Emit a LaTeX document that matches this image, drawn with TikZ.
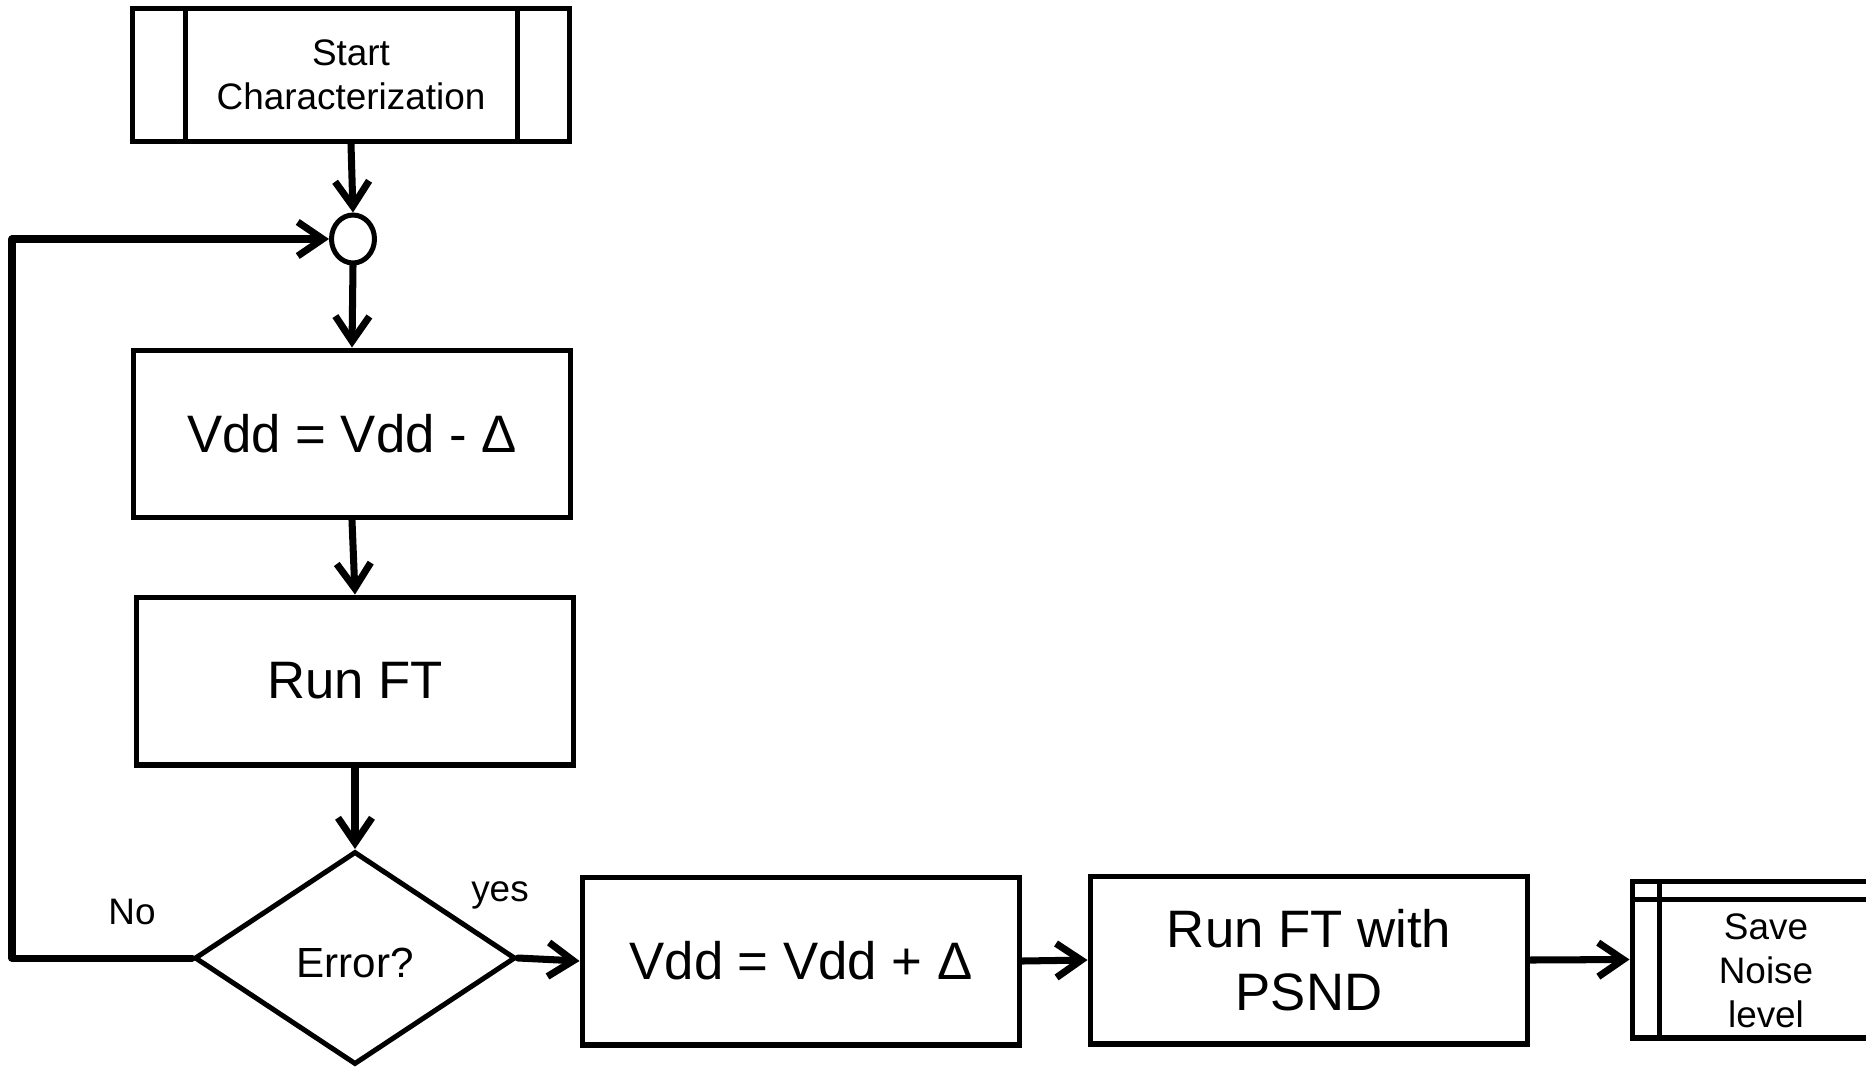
\documentclass[tikz,border=0pt]{standalone}
\usepackage{fontspec}
\setmainfont{Liberation Sans}
\usetikzlibrary{arrows.meta,shapes.geometric}
\tikzset{
  box/.style={draw, line width=2.85pt, minimum width=8.76cm, minimum height=3.36cm,
    inner sep=0pt, align=center, font=\fontsize{30}{36}\selectfont},
  small/.style={font=\fontsize{21}{25.2}\selectfont},
  flow/.style={line width=4pt, line cap=round, line join=round,
    -{Straight Barb[length=0.5cm,width=0.68cm]}},
  thin/.style={line width=2.85pt},
}
\begin{document}
\begin{tikzpicture}[x=0.02cm, y=-0.02cm]
\useasboundingbox (0,0) rectangle (1866,1069);
\clip (0,0) rectangle (1866,1069);
\fill[white] (0,0) rectangle (1866,1069);

% start block with double side bars
\node[box, minimum height=2.66cm, small] (start) at (351,75) {Start\\Characterization};
\draw[thin] ([xshift=1.12cm]start.north west) -- ([xshift=1.12cm]start.south west);
\draw[thin] ([xshift=-1.1cm]start.north east) -- ([xshift=-1.1cm]start.south east);

% junction
\node[draw, ellipse, line width=2.85pt, minimum width=0.86cm, minimum height=0.96cm,
  inner sep=0pt] (circ) at (353,239) {};

% main column
\node[box] (dec) at (352,434) {\raisebox{-1.5pt}{Vdd = Vdd - Δ}};
\node[box] (run) at (355,681) {\raisebox{-1.5pt}{Run FT}};
\node[draw, diamond, line width=2.85pt, minimum width=6.42cm, minimum height=4.26cm,
  inner sep=0pt] (dia) at (355,958) {};
\node[font=\fontsize{24}{28}\selectfont] (errtext) at (355,963) {Error?};

% bottom row
\node[box] (inc) at (801,961) {Vdd = Vdd + Δ};
\node[box] (psnd) at (1309,960) {Run FT with\\PSND};

% storage block
\node[draw, line width=2.85pt, minimum width=5.36cm, minimum height=3.14cm,
  inner sep=0pt] (save) at (1766,959.5) {};
\draw[thin] ([xshift=0.6cm]save.north west) -- ([xshift=0.6cm]save.south west);
\draw[thin] ([yshift=-0.42cm]save.north west) -- ([yshift=-0.42cm]save.north east);
\node[small, align=center] (savetext) at (1766,971) {Save\\Noise\\level};

% connectors
\draw[flow] (start.south) -- (circ.north);
\draw[flow] (circ.south) -- (dec.north);
\draw[flow] (dec.south) -- (run.north);
\draw[flow] (run.south) -- (dia.north);
\draw[flow] (dia.east) -- (inc.west);
\draw[flow] (inc.east) -- (psnd.west);
\draw[flow] (psnd.east) -- (save.west);

\coordinate (loopbot) at (12,958);
\coordinate (looptop) at (12,239);
\draw[flow] (dia.west) -- (loopbot) -- (looptop) -- (circ.west);

% branch labels
\node[small] (nolabel) at (132,912) {No};
\node[small] (yeslabel) at (500,895) {yes};
\end{tikzpicture}
\end{document}
